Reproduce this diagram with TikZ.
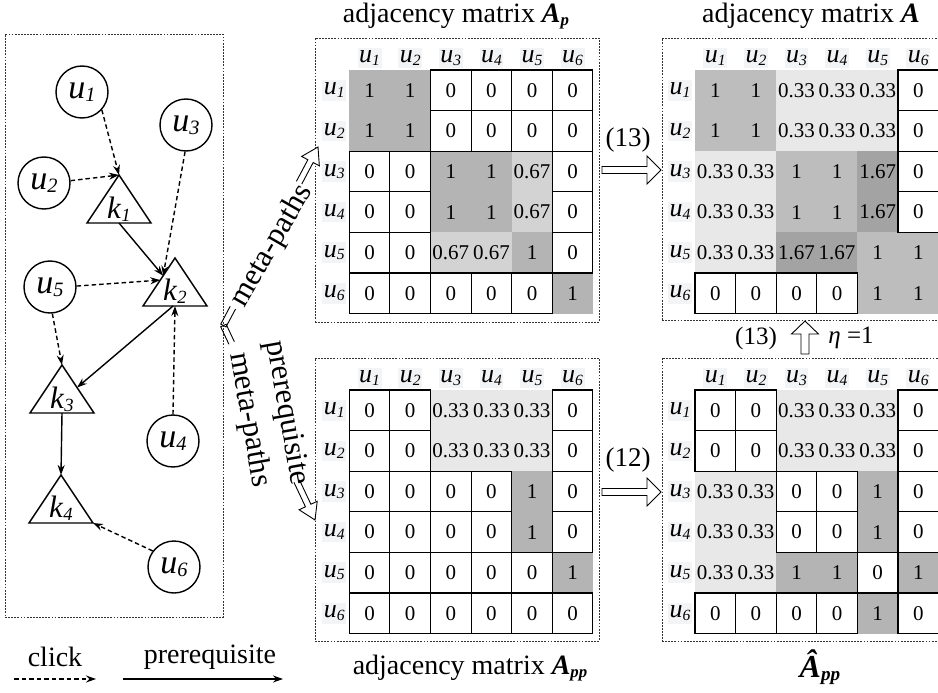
\documentclass[tikz,border=0pt]{standalone}
\usepackage{fontspec}
\usepackage{graphicx}
\setmainfont{Liberation Serif}
\usetikzlibrary{calc,arrows.meta}
\definecolor{cw}{HTML}{FFFFFF}
\definecolor{cd}{HTML}{B4B4B4}
\definecolor{cm}{HTML}{D3D3D3}
\definecolor{cl}{HTML}{E8E8E8}
\definecolor{ce}{HTML}{BDBDBD}
\definecolor{cx}{HTML}{A3A3A3}
\definecolor{hdrc}{HTML}{F3F4F6}
\newcommand\msub[1]{\raisebox{-0.1em}{\scalebox{0.6}{#1}}}
\newcommand\uu[1]{\textit{u}\msub{\textit{#1}}}
\newcommand\kk[1]{\textit{k}\msub{\textit{#1}}}
\newcommand\BA{\textbf{\textit{A}}}
% hollow arrow: #1 from, #2 to, #3 shaft half width, #4 head half width, #5 head length
\newcommand\hollow[5]{%
  \coordinate (hc) at ($(#2)!#5!(#1)$);
  \draw[hollowline, fill=white] ($(#1)!#3!90:(#2)$) -- ($(hc)!#3!90:(#2)$) -- ($(hc)!#4!90:(#2)$) -- (#2) -- ($(hc)!#4!-90:(#2)$) -- ($(hc)!#3!-90:(#2)$) -- ($(#1)!#3!-90:(#2)$) -- cycle;
}
% hollow arrow with a gap in the shaft between fractions #6 and #7
\newcommand\hollowgap[7]{%
  \coordinate (hc) at ($(#2)!#5!(#1)$);
  \coordinate (hpa) at ($(#1)!#6!(#2)$);
  \coordinate (hpb) at ($(#1)!#7!(#2)$);
  \draw[hollowline] ($(hpa)!#3!90:(#2)$) -- ($(#1)!#3!90:(#2)$) -- ($(#1)!#3!-90:(#2)$) -- ($(hpa)!#3!-90:(#2)$);
  \draw[hollowline, fill=white] ($(hpb)!#3!90:(#2)$) -- ($(hc)!#3!90:(#2)$) -- ($(hc)!#4!90:(#2)$) -- (#2) -- ($(hc)!#4!-90:(#2)$) -- ($(hc)!#3!-90:(#2)$) -- ($(hpb)!#3!-90:(#2)$);
}
\newcommand\drawmat[4]{%
  \foreach \rw [count=\i] in {#4} {%
    \foreach \v/\cl [count=\j] in \rw {%
      \node[cell, fill=c\cl] (#1-\i-\j) at ({#2+(\j-0.5)*40.6},{#3+(\i-0.5)*40.6}) {\v};
    }%
  }%
  \foreach \rw [count=\i] in {#4} {%
    \foreach \v/\cl [count=\j] in \rw {%
      \path[b\cl] (#1-\i-\j.south west) rectangle (#1-\i-\j.north east);
    }%
  }%
  \foreach \j in {1,...,6} {%
    \node[hdr] (#1-c\j) at ({#2+(\j-0.5)*40.6},{#3-12}) {\uu{\j}};
    \node[hdr] (#1-r\j) at ({#2-15},{#3+(\j-0.5)*40.6}) {\uu{\j}};
  }%
}
\begin{document}
\begin{tikzpicture}[x=1pt,y=-1pt,
  unode/.style={circle, draw, line width=1.4pt, minimum size=52pt, inner sep=0pt, font=\fontsize{34}{34}\selectfont},
  klab/.style={inner sep=0pt, font=\fontsize{31}{31}\selectfont},
  tri/.style={draw, line width=1.4pt, line join=miter},
  click/.style={draw, line width=1.4pt, dash pattern=on 4.5pt off 3pt, -{Stealth[length=10pt,width=7pt]}},
  prereq/.style={draw, line width=1.4pt, -{Stealth[length=10pt,width=7pt]}},
  panel/.style={draw=black!80, line width=0.8pt, dash pattern=on 1.8pt off 1.3pt, inner sep=0pt},
  cell/.style={minimum size=40.6pt, inner sep=0pt, outer sep=0pt, font=\fontsize{21}{21}\selectfont},
  hdr/.style={fill=hdrc, inner xsep=1.5pt, inner ysep=3pt, font=\fontsize{26}{26}\selectfont},
  bw/.style={draw=black, line width=1.1pt}, bd/.style={}, bm/.style={}, bl/.style={}, be/.style={}, bx/.style={},
  ttl/.style={inner sep=0pt, font=\fontsize{28}{28}\selectfont},
  eqlab/.style={inner sep=0pt, font=\fontsize{27}{27}\selectfont},
  rotlab/.style={inner sep=0pt, font=\fontsize{31}{38}\selectfont, align=center},
  hollowline/.style={draw=black, line width=0.9pt, line join=miter}]
\useasboundingbox (0,0) rectangle (938,693);
\clip (0,0) rectangle (938,693);

% ---- panels ----
\node[panel, minimum width=218pt, minimum height=583pt] (graphbox) at (114,325.5) {};
\node[panel, minimum width=284pt, minimum height=284pt] (apbox) at (457,180) {};
\node[panel, minimum width=283pt, minimum height=282pt] (abox) at (803.5,179) {};
\node[panel, minimum width=284pt, minimum height=283pt] (appbox) at (457,499.5) {};
\node[panel, minimum width=283pt, minimum height=283pt] (ahbox) at (803.5,499.5) {};

% ---- matrices ----
\drawmat{ap}{349.3}{70}{{1/d,1/d,0/w,0/w,0/w,0/w},{1/d,1/d,0/w,0/w,0/w,0/w},{0/w,0/w,1/d,1/d,0.67/m,0/w},{0/w,0/w,1/d,1/d,0.67/m,0/w},{0/w,0/w,0.67/m,0.67/m,1/d,0/w},{0/w,0/w,0/w,0/w,0/w,1/d}}
\drawmat{a}{695}{70}{{1/e,1/e,0.33/l,0.33/l,0.33/l,0/w},{1/e,1/e,0.33/l,0.33/l,0.33/l,0/w},{0.33/l,0.33/l,1/e,1/e,1.67/x,0/w},{0.33/l,0.33/l,1/e,1/e,1.67/x,0/w},{0.33/l,0.33/l,1.67/x,1.67/x,1/e,1/e},{0/w,0/w,0/w,0/w,1/e,1/e}}
\drawmat{app}{349.3}{390}{{0/w,0/w,0.33/l,0.33/l,0.33/l,0/w},{0/w,0/w,0.33/l,0.33/l,0.33/l,0/w},{0/w,0/w,0/w,0/w,1/d,0/w},{0/w,0/w,0/w,0/w,1/d,0/w},{0/w,0/w,0/w,0/w,0/w,1/d},{0/w,0/w,0/w,0/w,0/w,0/w}}
\drawmat{ah}{695}{390}{{0/w,0/w,0.33/l,0.33/l,0.33/l,0/w},{0/w,0/w,0.33/l,0.33/l,0.33/l,0/w},{0.33/l,0.33/l,0/w,0/w,1/d,0/w},{0.33/l,0.33/l,0/w,0/w,1/d,0/w},{0.33/l,0.33/l,1/d,1/d,0/w,1/d},{0/w,0/w,0/w,0/w,1/d,0/w}}

% ---- titles ----
\node[ttl] (tap) at (456,16) {adjacency matrix \BA\msub{\textbf{\textit{p}}}};
\node[ttl] (ta) at (811,16) {adjacency matrix \BA};
\node[ttl] (tapp) at (470,668) {adjacency matrix \BA\msub{\textbf{\textit{pp}}}};
\node[inner sep=0pt, font=\fontsize{32}{32}\selectfont] (tah) at (820,667) {\textbf{\textit{Â}}\msub{\textbf{\textit{pp}}}};

% ---- hollow arrows between matrices ----
\coordinate (h13a) at (602,170);
\coordinate (h13b) at (661,170);
\coordinate (h12a) at (602,492);
\coordinate (h12b) at (661,492);
\coordinate (v13a) at (805,354);
\coordinate (v13b) at (805,321);
\hollow{h13a}{h13b}{3.5pt}{14pt}{14pt}
\hollow{h12a}{h12b}{3.5pt}{14pt}{14pt}
\hollow{v13a}{v13b}{4pt}{13.5pt}{13pt}
\node[eqlab] (e13) at (628,140) {(13)};
\node[eqlab] (e12) at (628,460) {(12)};
\node[eqlab, font=\fontsize{25}{25}\selectfont] (e13b) at (756,338) {(13)};
\node[eqlab, font=\fontsize{25}{25}\selectfont] (eta) at (851,338) {\textit{η} =1};

% ---- meta-path arrows ----
\coordinate (mpA) at (318,147);
\coordinate (mpB) at (315,520);
\hollowgap{graphbox.east}{mpA}{3pt}{10pt}{16pt}{0.1}{0.8}
\hollowgap{graphbox.east}{mpB}{3pt}{10pt}{16pt}{0.09}{0.8}
\node[rotlab, rotate=60] (mplab) at (272,246) {meta-paths};
\node[rotlab, rotate=-80] (pmlab) at (267.5,416.5) {prerequisite\\meta-paths};

% ---- graph ----
\node[unode] (u1) at (82,92) {\uu{1}};
\node[unode] (u2) at (44,183) {\uu{2}};
\node[unode] (u3) at (186,125) {\uu{3}};
\node[unode] (u5) at (50,287) {\uu{5}};
\node[unode] (u4) at (173,441) {\uu{4}};
\node[unode] (u6) at (174,567) {\uu{6}};

\coordinate (k1t) at (119,175); \coordinate (k1l) at (87,223); \coordinate (k1r) at (151,223);
\coordinate (k2t) at (175,258); \coordinate (k2l) at (143,306); \coordinate (k2r) at (207,306);
\coordinate (k3t) at (62,365); \coordinate (k3l) at (30,413); \coordinate (k3r) at (94,413);
\coordinate (k4t) at (61,475); \coordinate (k4l) at (29,523); \coordinate (k4r) at (93,523);
\draw[tri] (k1t) -- (k1l) -- (k1r) -- cycle;
\draw[tri] (k2t) -- (k2l) -- (k2r) -- cycle;
\draw[tri] (k3t) -- (k3l) -- (k3r) -- cycle;
\draw[tri] (k4t) -- (k4l) -- (k4r) -- cycle;
\node[klab] (k1) at (119,209) {\kk{1}};
\node[klab] (k2) at (175,291) {\kk{2}};
\node[klab] (k3) at (62,399) {\kk{3}};
\node[klab] (k4) at (61,508) {\kk{4}};

\coordinate (k1b) at ($(k1l)!0.5!(k1r)$);
\coordinate (k2a) at ($(k2t)!0.37!(k2l)$);
\coordinate (k2c) at ($(k2t)!0.46!(k2l)$);
\coordinate (k2b) at ($(k2l)!0.5!(k2r)$);
\coordinate (k2d) at ($(k2l)!0.47!(k2r)$);
\coordinate (k3a) at ($(k3t)!0.47!(k3r)$);
\coordinate (k3b) at ($(k3l)!0.5!(k3r)$);

\draw[click] (u1.-42) -- (k1t);
\draw[click] (u2.5) -- (k1t);
\draw[prereq] (k1b) -- (k2a);
\draw[click] (u3.-92) -- (k2a);
\draw[click] (u5.2) -- (k2c);
\draw[click] (u4.north) -- (k2b);
\draw[prereq] (k2d) -- (k3a);
\draw[click] (u5.-85) -- (k3t);
\draw[prereq] (k3b) -- (k4t);
\draw[click] (u6.143) -- (k4r);

% ---- legend ----
\node[ttl] (lclick) at (55,657) {click};
\node[ttl] (lprereq) at (210,657) {prerequisite};
\coordinate (lc1) at (14,679); \coordinate (lc2) at (96,679);
\coordinate (lp1) at (123,679); \coordinate (lp2) at (283,679);
\draw[click] (lc1) -- (lc2);
\draw[prereq] (lp1) -- (lp2);
\end{tikzpicture}
\end{document}
